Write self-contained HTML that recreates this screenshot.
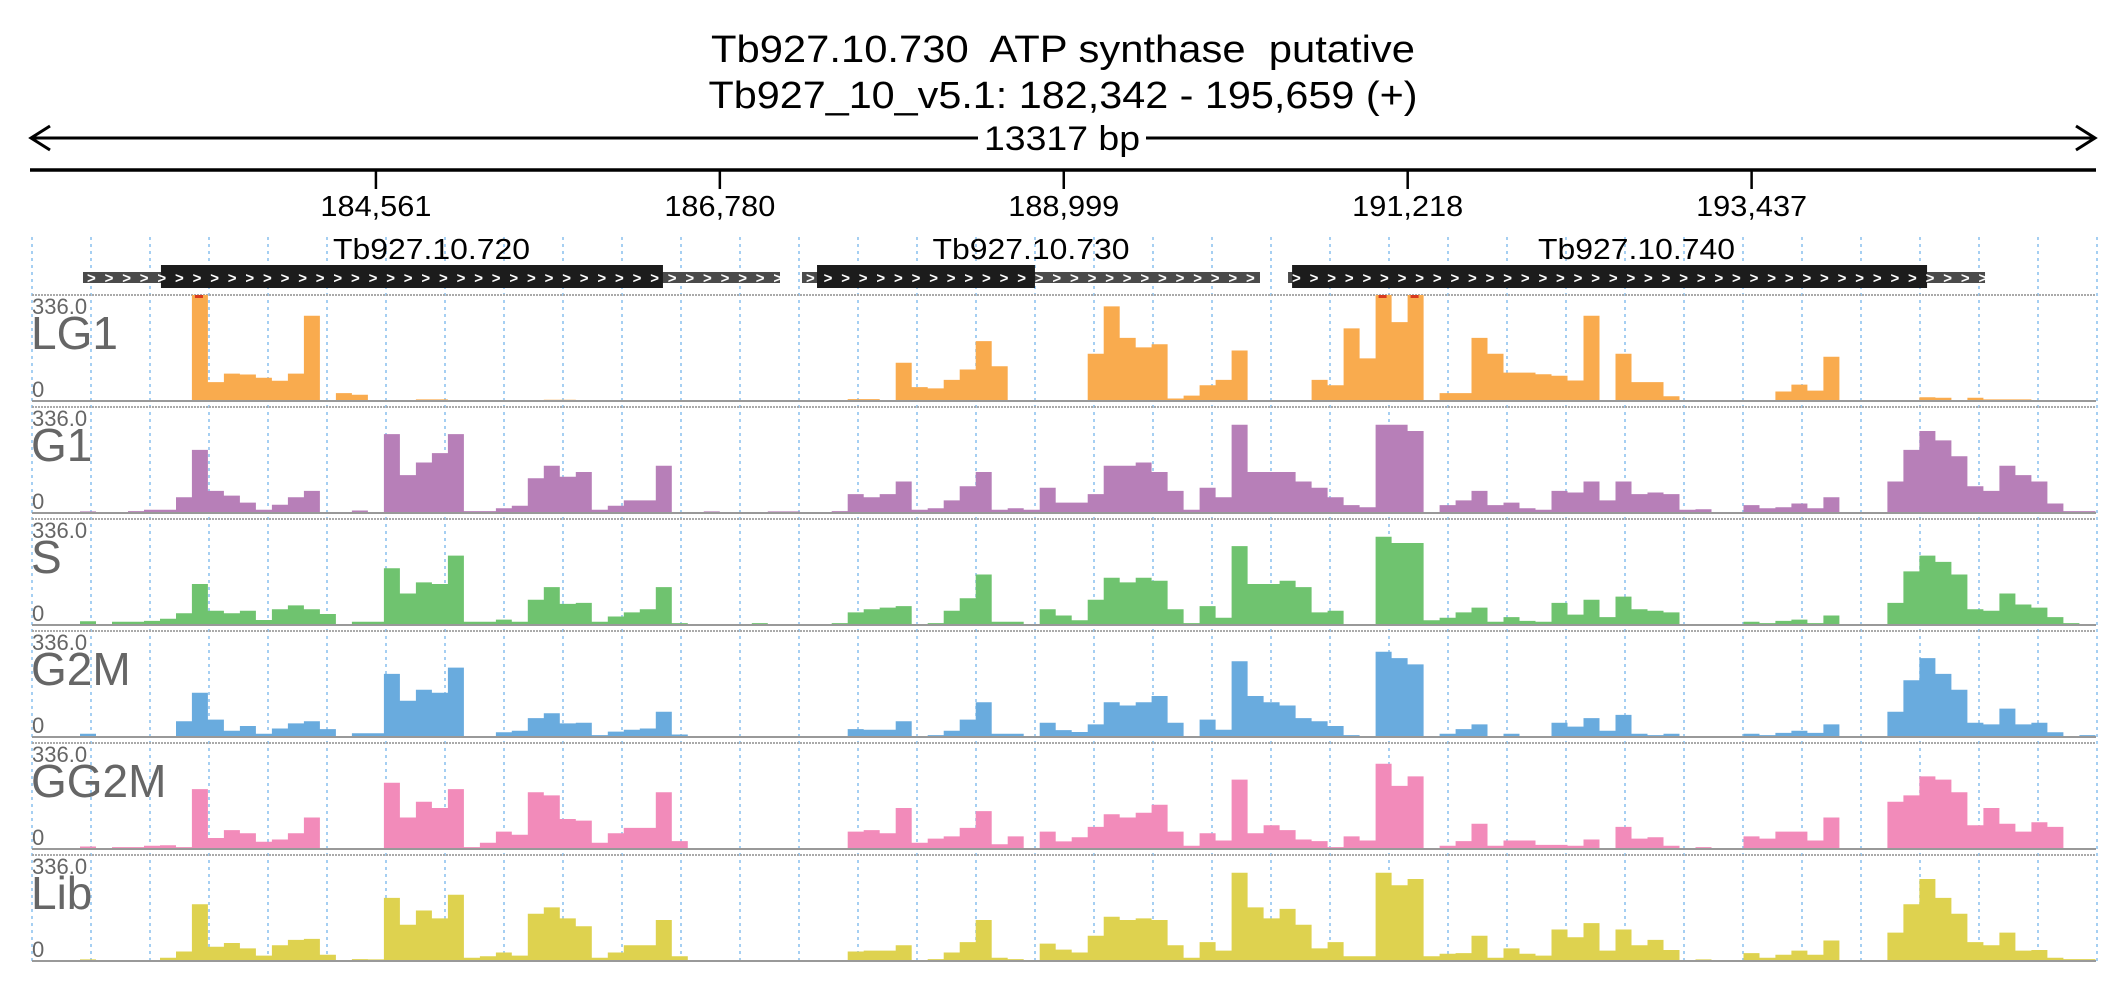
<!DOCTYPE html>
<html><head><meta charset="utf-8"><style>
html,body{margin:0;padding:0;background:#fff;}
svg{display:block;font-family:"Liberation Sans",sans-serif;}
</style></head><body>
<svg id="chart" width="2126" height="1000" viewBox="0 0 2126 1000" xmlns="http://www.w3.org/2000/svg">
<rect width="2126" height="1000" fill="#fff"/>
<text x="1063" y="62" text-anchor="middle" font-size="38" textLength="704" lengthAdjust="spacingAndGlyphs" fill="#000" style="white-space:pre" xml:space="preserve">Tb927.10.730  ATP synthase  putative</text>
<text x="1063" y="108" text-anchor="middle" font-size="38" textLength="709" lengthAdjust="spacingAndGlyphs" fill="#000">Tb927_10_v5.1: 182,342 - 195,659 (+)</text>
<g stroke="#000" stroke-width="3" fill="none">
<line x1="32" y1="138" x2="2094" y2="138"/>
<polyline points="50,126 31,138 50,150"/>
<polyline points="2076,126 2095,138 2076,150"/>
</g>
<rect x="978" y="118" width="168" height="40" fill="#fff"/>
<text x="1062" y="150" text-anchor="middle" font-size="34" textLength="156" lengthAdjust="spacingAndGlyphs">13317 bp</text>
<line x1="30" y1="170" x2="2096" y2="170" stroke="#000" stroke-width="3.5"/>
<g id="ticks"></g>
<g id="grid"></g>
<g id="genes"></g>
<g id="tracks"></g>
</svg>
<script>
const ticks=[184561,186780,188999,191218,193437];
const startBp=182342, endBp=195659;
const binBp=103.2;
const trackNames=["LG1","G1","S","G2M","GG2M","Lib"];
const geneNames=["Tb927.10.720","Tb927.10.730","Tb927.10.740"];
const geneStart=[182671,187310,190446];
const geneEnd=[187168,190265,194943];
const cdsStart=[183174,187407,190472];
const cdsEnd=[186413,188813,194569];
const yMax=336;
const LG1=[0,0,0,0,0,0,0,0,0,0,336,60,87,84,74,64,87,270,0,25,20,0,0,0,5,5,0,0,0,0,0,0,4,4,0,0,0,0,0,0,0,0,0,0,0,0,0,0,0,0,0,6,6,0,121,44,40,67,100,190,110,0,0,0,0,0,150,300,200,170,180,8,17,50,67,160,0,0,0,0,67,50,230,135,336,250,336,0,25,25,200,150,90,90,85,80,65,270,0,150,60,60,15,2,0,0,0,0,3,30,52,33,140,0,0,0,0,0,12,10,3,10,5,5,5,0,0,0,0];
const G1=[0,0,0,5,3,3,6,10,10,50,200,70,55,33,10,26,50,70,3,0,8,3,250,120,160,190,250,6,6,15,23,110,150,115,130,10,23,40,40,150,3,3,5,3,3,3,5,5,0,3,6,60,50,60,100,10,15,40,85,130,10,15,10,80,33,33,60,150,150,160,130,70,10,80,50,280,130,130,130,100,80,50,25,18,280,280,260,1,25,40,70,25,33,15,10,70,65,100,40,100,60,65,60,10,12,3,3,25,15,18,30,15,50,0,0,3,100,200,260,230,180,85,70,150,120,100,30,6,6];
const S=[0,0,0,12,3,10,10,13,20,37,130,45,37,45,16,50,62,50,35,0,10,10,180,100,135,130,220,10,10,17,10,80,120,67,70,10,27,40,50,120,6,3,3,0,0,6,3,3,0,3,6,40,50,55,60,3,6,45,85,160,10,10,3,50,30,15,80,150,135,150,140,50,6,60,23,250,130,130,140,120,40,45,3,3,280,260,260,15,23,40,55,10,25,13,10,70,33,80,25,90,50,45,40,3,3,3,3,10,6,13,17,6,30,0,0,3,70,170,220,200,160,50,45,100,65,55,25,6,3];
const G2M=[0,0,0,10,3,3,3,3,3,50,140,55,20,35,10,27,43,50,25,0,12,12,200,115,150,140,220,3,3,15,20,60,75,43,45,6,17,23,27,80,8,3,3,0,0,0,0,0,0,0,0,25,23,23,50,3,6,20,55,110,10,10,3,45,22,16,40,110,100,110,130,45,3,55,23,240,130,110,100,60,50,35,6,3,270,250,230,3,10,25,40,3,10,3,3,45,33,60,20,70,10,6,10,3,3,3,3,10,6,13,20,13,40,0,0,0,80,180,250,200,150,45,40,90,40,45,15,3,6];
const GG2M=[0,0,0,8,3,6,6,10,12,6,190,35,60,50,23,30,50,100,0,0,0,0,210,100,150,130,190,6,20,55,45,180,170,95,90,20,50,67,67,180,25,0,0,0,0,0,0,0,0,0,0,55,60,50,130,20,33,40,67,120,15,40,0,55,24,37,70,110,100,115,140,55,10,50,27,220,50,75,60,30,25,6,40,27,270,200,230,0,10,25,80,10,27,27,13,13,10,30,3,70,33,37,10,0,6,3,3,40,33,55,55,27,100,0,0,0,150,170,230,220,180,75,130,80,55,85,70,3,3];
const Lib=[0,0,0,5,3,3,3,3,10,30,180,45,57,40,17,50,67,70,20,0,6,5,200,115,160,135,210,10,15,27,17,150,170,135,110,10,27,50,50,130,15,0,0,0,0,0,0,0,0,0,0,30,33,33,50,3,6,27,60,130,10,6,3,55,36,27,80,140,130,135,130,50,10,60,33,280,170,135,165,115,40,60,15,15,280,240,260,15,23,25,80,10,40,23,17,100,75,120,33,100,50,67,35,3,5,3,3,25,10,20,33,20,65,0,0,0,90,180,260,200,150,60,50,90,33,35,10,6,6];
const series=[LG1,G1,S,G2M,GG2M,Lib];
const colors=["#f9ab4e","#b77fb8","#6fc36f","#69abde","#f28bba","#ded24f"];

const NS="http://www.w3.org/2000/svg";
const X0=32, X1=2096;
function xScale(bp){return X0+(bp-startBp)/(endBp-startBp)*(X1-X0);}
const trackTop0=295, trackPitch=112, trackH=106;
function yScale(v,t){const base=trackTop0+t*trackPitch+trackH;return base-Math.min(v,yMax)/yMax*trackH;}
function mk(tag,attrs,parent){const e=document.createElementNS(NS,tag);for(const k in attrs)e.setAttribute(k,attrs[k]);parent.appendChild(e);return e;}

const tg=document.getElementById('ticks');
ticks.forEach(t=>{
  const x=xScale(t);
  const l=mk('line',{x1:x,y1:170,x2:x,y2:189,stroke:'#000','stroke-width':2.5},tg);
  
  
  const tx=mk('text',{x:x,y:216,'text-anchor':'middle','font-size':29,textLength:111,lengthAdjust:'spacingAndGlyphs'},tg);
  
  
  tx.textContent=t.toLocaleString('en-US');
});
const gg=document.getElementById('grid');
for(let x=X0;x<=X1+2;x+=59){
  const l=mk('line',{x1:x,y1:237,x2:x,y2:962,stroke:'#8fc3ee','stroke-width':1.6,'stroke-dasharray':'3,4'},gg);
  
  
}
const ge=document.getElementById('genes');
function chevrons(x1,x2,parent){
  for(let x=x1+4;x<x2-6;x+=17.6){
    const c=mk('text',{x:x,y:283,'font-size':15,'font-weight':'bold',fill:'#fff'},parent);
    
    
    c.textContent='>';
  }
}
geneNames.forEach((n,i)=>{
  const g=mk('g',{},ge);
  
  
  const a=xScale(geneStart[i]),b=xScale(geneEnd[i]),c=xScale(cdsStart[i]),d=xScale(cdsEnd[i]);
  const r=mk('rect',{x:a,y:272,width:b-a,height:11,fill:'#4a4a4a'},g);
  
  
  const r2=mk('rect',{x:c,y:265,width:d-c,height:23,fill:'#1c1c1c'},g);
  
  
  chevrons(a,b,g);
  const t=mk('text',{x:(a+b)/2,y:259,'text-anchor':'middle','font-size':29,textLength:197,lengthAdjust:'spacingAndGlyphs'},g);
  
  
  t.textContent=n;
});
const tr=document.getElementById('tracks');
trackNames.forEach((name,t)=>{
  const g=mk('g',{},tr);
  
  
  const top=trackTop0+t*trackPitch, base=top+trackH;
  const tl=mk('line',{x1:X0,y1:top,x2:X1,y2:top,stroke:'#aaa','stroke-width':2,'stroke-dasharray':'2,1'},g);
  
  
  const vals=series[t];
  let d='M'+X0+','+base;
  vals.forEach((v,i)=>{
    const xa=xScale(startBp+i*binBp), xb=xScale(startBp+(i+1)*binBp), y=yScale(v,t);
    d+=' L'+xa.toFixed(1)+','+y.toFixed(1)+' L'+Math.min(xb,X1).toFixed(1)+','+y.toFixed(1);
  });
  d+=' L'+X1+','+base+' Z';
  const p=mk('path',{d:d,fill:colors[t]},g);
  
  
  vals.forEach((v,i)=>{
    if(v>=yMax){
      const xa=xScale(startBp+i*binBp);
      const m=mk('rect',{x:xa+3,y:top,width:8,height:3,fill:'#d83a1e'},g);
      
      
    }
  });
  const bl=mk('line',{x1:X0,y1:base,x2:X1,y2:base,stroke:'#999','stroke-width':2},g);
  
  
  const mx=mk('text',{x:32,y:top+19,'font-size':22,fill:'#666'},g);
  
  
  mx.textContent='336.0';
  const nm=mk('text',{x:31,y:top+54,'font-size':46,fill:'#666'},g);
  
  
  nm.textContent=name;
  const z=mk('text',{x:32,y:top+102,'font-size':22,fill:'#666'},g);
  
  
  z.textContent='0';
});
</script>
</body></html>
